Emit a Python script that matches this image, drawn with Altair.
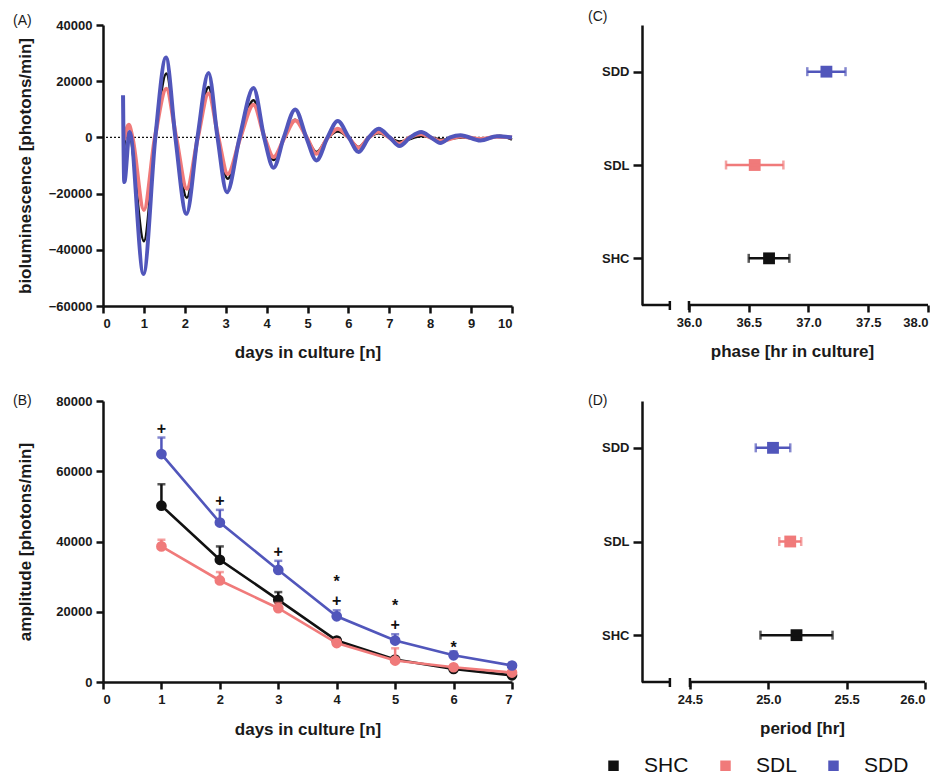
import altair as alt
import pandas as pd

FONT = "Liberation Sans"
TXT = "#1a1a1a"

groups = ["SHC", "SDL", "SDD"]
group_colors = ["#111111", "#f07a7a", "#5156bb"]

# ---------------- Panel A: bioluminescence traces (days, photons/min)
a_shc_t = [0.50, 0.55, 0.63, 1.00, 1.28, 1.55, 1.78, 2.05, 2.31, 2.58, 2.81, 3.05, 3.35, 3.68, 3.95, 4.17, 4.43,
           4.70, 4.98, 5.22, 5.50, 5.74, 6.00, 6.25, 6.50, 6.74, 7.00, 7.25, 7.80, 8.30, 8.80, 9.30, 9.70, 10.0]
a_shc_v = [-6000, 0, 1500, -36900, 0, 22700, 0, -21500, 0, 17900, 0, -14700, 0, 13200, 0, -8000, 0,
           6300, 0, -5200, 0, 2100, 0, -3400, 0, 1500, 0, -1500, 500, -800, 0, -600, 600, -800]

a_sdl_t = [0.52, 0.63, 0.72, 1.00, 1.27, 1.55, 1.79, 2.05, 2.32, 2.58, 2.82, 3.05, 3.36, 3.68, 3.95, 4.17, 4.44,
           4.70, 4.98, 5.22, 5.50, 5.74, 6.00, 6.25, 6.50, 6.74, 7.00, 7.25, 7.50, 7.78, 8.00, 8.25, 8.74, 9.23,
           9.63, 10.0]
a_sdl_v = [-1000, 4500, 0, -25800, 0, 17300, 0, -18300, 0, 15600, 0, -13000, 0, 11600, 0, -7000, 0,
           6000, 0, -5800, 0, 3100, 0, -3700, 0, 2000, 0, -2300, 0, 1200, 0, -1300, 300, -600,
           200, 0]

a_sdd_t = [0.49, 0.52, 0.65, 0.99, 1.28, 1.54, 1.77, 2.04, 2.31, 2.58, 2.80, 3.03, 3.34, 3.68, 3.94, 4.17,
           4.42, 4.70, 4.97, 5.22, 5.49, 5.74, 6.01, 6.25, 6.50, 6.74, 7.01, 7.25, 7.51, 7.78, 8.02, 8.25, 8.49,
           8.74, 9.23, 9.63, 10.0]
a_sdd_v = [15000, -15900, 1900, -48600, 0, 28400, 0, -27200, 0, 22900, 0, -19500, 0, 17600, 0, -10800,
           0, 9900, 0, -8200, 0, 5800, 0, -5200, 0, 3100, 0, -3100, 0, 1900, 0, -2000, 0,
           800, -1100, 400, 0]

# ---------------- Panel B: amplitude per day (mean, SEM)
b_days = [1, 2, 3, 4, 5, 6, 7]
b_shc_mean = [50200, 34800, 23400, 11800, 6400, 3700, 1900]
b_shc_err = [6100, 3800, 2200, 700, 600, 400, 300]
b_sdl_mean = [38600, 28900, 21000, 11100, 6100, 4200, 2700]
b_sdl_err = [1900, 2400, 1500, 900, 3500, 500, 300]
b_sdd_mean = [64900, 45400, 31900, 18700, 11800, 7600, 4700]
b_sdd_err = [4700, 3600, 2600, 1700, 1800, 1100, 500]
plus_days = [1, 2, 3, 4, 5]
star_days = [4, 5, 6]

# ---------------- Panel C: phase, Panel D: period (mean, SEM)
c_mean = [36.67, 36.55, 37.15]
c_err = [0.17, 0.24, 0.16]
d_mean = [25.18, 25.14, 25.03]
d_err = [0.23, 0.07, 0.11]

# axis ranges / breaks
c_domain = [35.607, 38.0]
c_break = [35.84, 36.0]
d_domain = [24.194, 26.0]
d_break = [24.372, 24.5]

WA, HA = 409, 281
WC, HC = 286, 280
WD = 283


def color_enc(legend=None):
    return alt.Color("g:N", scale=alt.Scale(domain=groups, range=group_colors), legend=legend)


def panel_label(txt, x, y):
    return alt.Chart(pd.DataFrame({"lab": [txt]})).mark_text(
        font=FONT, fontSize=14, align="left", baseline="middle", color=TXT
    ).encode(x=alt.value(x), y=alt.value(y), text="lab:N")


# ======== Panel A
xA = alt.X("t:Q", scale=alt.Scale(domain=[0, 10], nice=False),
           axis=alt.Axis(values=list(range(11)), format="d", title="days in culture [n]",
                         titleY=46, titleBaseline="middle"))
yA = alt.Y("v:Q", scale=alt.Scale(domain=[-60000, 40000], nice=False),
           axis=alt.Axis(values=[-60000, -40000, -20000, 0, 20000, 40000], format="d",
                         title="bioluminescence [photons/min]", titleX=-78, titleBaseline="middle"))

zero = alt.Chart(pd.DataFrame({"z": [0]})).mark_rule(
    color="#111111", strokeDash=[2, 2], strokeWidth=1.3).encode(y=alt.Y("z:Q"))


def trace(ts, vs, g, w):
    df = pd.DataFrame({"t": ts, "v": vs, "g": g})
    return alt.Chart(df).mark_line(interpolate="monotone", strokeWidth=w).encode(
        x=xA, y=yA, color=color_enc())


panelA = alt.layer(
    zero,
    trace(a_shc_t, a_shc_v, "SHC", 2.6),
    trace(a_sdl_t, a_sdl_v, "SDL", 4),
    trace(a_sdd_t, a_sdd_v, "SDD", 4),
    panel_label("(A)", -90, -4),
).properties(width=WA, height=HA)

# ======== Panel B
xB = alt.X("d:Q", scale=alt.Scale(domain=[0, 7], nice=False),
           axis=alt.Axis(values=list(range(8)), format="d", title="days in culture [n]",
                         titleY=47, titleBaseline="middle"))
yB = alt.Y("m:Q", scale=alt.Scale(domain=[0, 80000], nice=False),
           axis=alt.Axis(values=[0, 20000, 40000, 60000, 80000], format="d",
                         title="amplitude [photons/min]", titleX=-78, titleBaseline="middle"))


def amp_layers(mean, err, g):
    df = pd.DataFrame({"d": b_days, "m": mean, "top": [a + b for a, b in zip(mean, err)], "g": g})
    base = alt.Chart(df)
    line = base.mark_line(strokeWidth=2.6).encode(x=xB, y=yB, color=color_enc())
    bar = base.mark_rule(strokeWidth=2.5).encode(x=xB, y=yB, y2="top:Q", color=color_enc())
    cap = base.mark_tick(orient="horizontal", size=8, thickness=2.5).encode(
        x=xB, y=alt.Y("top:Q"), color=color_enc())
    pts = base.mark_circle(size=115, opacity=1).encode(x=xB, y=yB, color=color_enc())
    return [line, bar, cap, pts]


sdd_top = {d: m + e for d, m, e in zip(b_days, b_sdd_mean, b_sdd_err)}
plus_only = [d for d in plus_days if d not in star_days]
both = [d for d in plus_days if d in star_days]
star_only = [d for d in star_days if d not in plus_days]
plus_df = pd.DataFrame({"d": plus_only, "top": [sdd_top[d] for d in plus_only], "s": "+"})
both_df = pd.DataFrame({"d": both, "top": [sdd_top[d] for d in both], "s": "*\n+"})
star_df = pd.DataFrame({"d": star_only, "top": [sdd_top[d] for d in star_only], "s": "*"})

SIG_FS, SIG_LH = 16, 19


def sig_text(df, dy):
    return alt.Chart(df).mark_text(font=FONT, fontSize=SIG_FS, fontWeight="bold", color="#111111",
                                   baseline="bottom", dy=dy, lineBreak="\n", lineHeight=SIG_LH).encode(
        x=xB, y=alt.Y("top:Q"), text="s:N")


panelB = alt.layer(
    *amp_layers(b_shc_mean, b_shc_err, "SHC"),
    *amp_layers(b_sdl_mean, b_sdl_err, "SDL"),
    *amp_layers(b_sdd_mean, b_sdd_err, "SDD"),
    sig_text(plus_df, -1),
    sig_text(both_df, -1 - SIG_LH),
    sig_text(star_df, 5),
    panel_label("(B)", -90, 0),
).properties(width=WA, height=HA)


# ======== Panels C and D
def dot_panel(mean, err, domain, brk, ticks, title, title_x, W, H, label, legend):
    xC = alt.X("m:Q", scale=alt.Scale(domain=domain, nice=False, zero=False),
               axis=alt.Axis(values=ticks, format=".1f", domain=False, title=title,
                             titleX=title_x, titleY=46, titleBaseline="middle", titleAlign="center"))
    yC = alt.Y("g:N", scale=alt.Scale(type="point", domain=["SDD", "SDL", "SHC"], padding=0.5),
               axis=alt.Axis(title=None, tickSize=9, labelPadding=4))
    seg = pd.DataFrame({"m": [domain[0], brk[1]], "m2": [brk[0], domain[1]]})
    seg_rule = alt.Chart(seg).mark_rule(color="#111111", strokeWidth=2.5).encode(
        x=xC, x2="m2:Q", y=alt.value(H))
    caps = alt.Chart(pd.DataFrame({"m": brk})).mark_rule(color="#111111", strokeWidth=2.5).encode(
        x=xC, y=alt.value(H - 4), y2=alt.value(H + 5))
    df = pd.DataFrame({"g": groups, "m": mean,
                       "lo": [a - b for a, b in zip(mean, err)],
                       "hi": [a + b for a, b in zip(mean, err)]})
    base = alt.Chart(df)
    # squares first so that their legend settings win the merge; bars share the same colour
    sq = base.mark_square(size=140, opacity=1).encode(x=xC, y=yC, color=color_enc(legend))
    bar = base.mark_rule(strokeWidth=2.5).encode(x=alt.X("lo:Q"), x2="hi:Q", y=yC, color=color_enc())
    cap_lo = base.mark_tick(orient="vertical", size=9, thickness=2.5).encode(
        x=alt.X("lo:Q"), y=yC, color=color_enc())
    cap_hi = base.mark_tick(orient="vertical", size=9, thickness=2.5).encode(
        x=alt.X("hi:Q"), y=yC, color=color_enc())
    return alt.layer(sq, seg_rule, caps, bar, cap_lo, cap_hi,
                     panel_label(label, -54, -8 if label == "(C)" else 0)
                     ).properties(width=W, height=H)


legend = alt.Legend(orient="none", legendX=-39, legendY=354, direction="horizontal", title=None,
                    symbolType="square", symbolSize=110, symbolStrokeWidth=0, labelFont=FONT,
                    labelFontSize=21, labelFontWeight="normal", labelColor="#111111",
                    labelOffset=20, columnPadding=26, padding=0)

panelC = dot_panel(c_mean, c_err, c_domain, c_break, [36.0, 36.5, 37.0, 37.5, 38.0],
                   "phase [hr in culture]", 150, WC, HC, "(C)", None)
panelD = dot_panel(d_mean, d_err, d_domain, d_break, [24.5, 25.0, 25.5, 26.0],
                   "period [hr]", 160, WD, HA, "(D)", legend)

chart = alt.concat(panelA, panelC, panelB, panelD, columns=2,
                   spacing={"row": 95, "column": 130}, bounds="flush").resolve_scale(
    color="independent"
).properties(
    padding={"left": 13, "top": 10, "right": 4, "bottom": 2}
).configure_axis(
    domainColor="#111111", domainWidth=2.5, tickColor="#111111", tickWidth=2.5, tickSize=7,
    labelFont=FONT, labelFontSize=13, labelFontWeight="bold", labelColor=TXT, labelPadding=4,
    titleFont=FONT, titleFontSize=17, titleFontWeight="bold", titleColor=TXT, grid=False
).configure_view(stroke=None)

chart.save("out.html", embed_options={"renderer": "svg", "actions": False})
